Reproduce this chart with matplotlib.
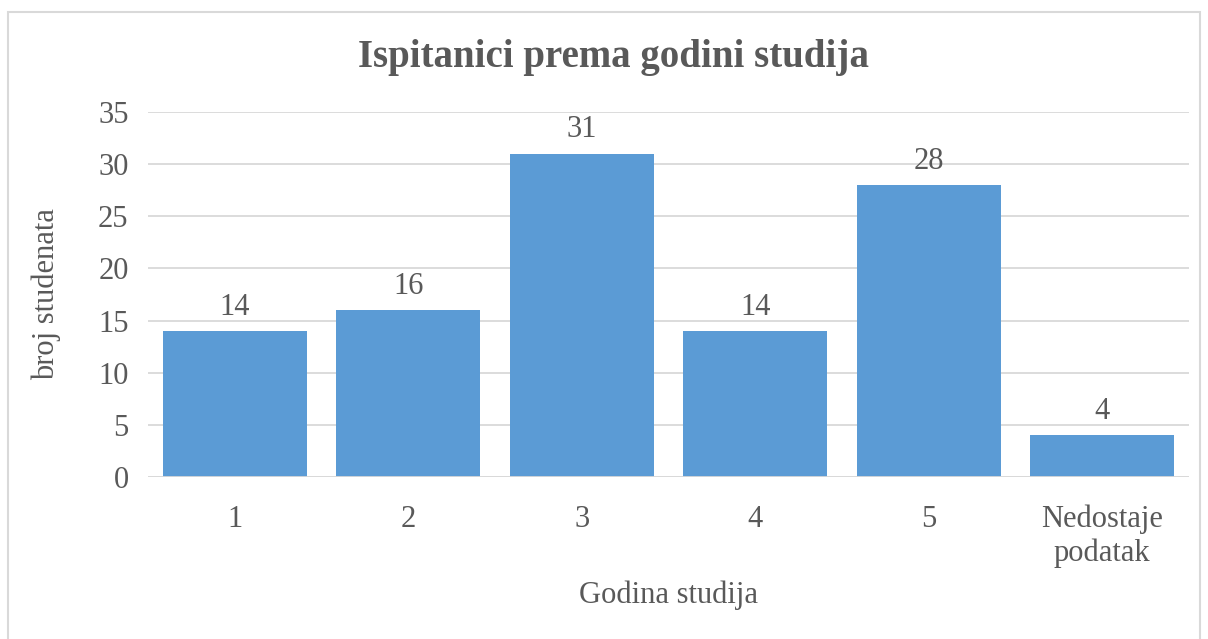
import matplotlib.pyplot as plt
from matplotlib.patches import Rectangle

# ── Data ─────────────────────────────────────────────────────────────────────
categories = ["1", "2", "3", "4", "5", "Nedostaje\npodatak"]
counts     = [14, 16, 31, 14, 28, 4]
y_ticks    = [0, 5, 10, 15, 20, 25, 30, 35]

TEXT  = "#595959"
BAR   = "#5b9bd5"
GRID  = "#d9d9d9"

plt.rcParams["font.family"] = ["Liberation Serif", "DejaVu Serif"]

fig = plt.figure(figsize=(12.08, 6.39), dpi=100, facecolor="white")
ax = fig.add_axes([148 / 1208, 1 - 477 / 639, (1189 - 148) / 1208, (477 - 112) / 639])

x = range(len(categories))
ax.bar(x, counts, width=0.83, color=BAR, zorder=3)
for xi, v in zip(x, counts):
    ax.text(xi, v + 0.9, str(v), ha="center", va="bottom", fontsize=22, color=TEXT)

ax.set_xlim(-0.5, len(categories) - 0.5)
ax.set_ylim(0, 35)
ax.set_yticks(y_ticks)
ax.set_xticks(list(x))
ax.set_xticklabels(categories, linespacing=1.2)
ax.tick_params(axis="both", length=0, labelsize=22, labelcolor=TEXT)
ax.tick_params(axis="x", pad=20)
ax.tick_params(axis="y", pad=14)
ax.yaxis.grid(True, color=GRID, linewidth=1.3, zorder=0)
for s in ax.spines.values():
    s.set_visible(False)
ax.axhline(0, color=GRID, linewidth=1.3, zorder=4)

ax.set_xlabel("Godina studija", fontsize=22, color=TEXT, labelpad=9)
ax.set_ylabel("broj studenata", fontsize=22, color=TEXT, labelpad=27)

fig.text(613 / 1208, 1 - 57 / 639, "Ispitanici prema godini studija",
         ha="center", va="center", fontsize=28, fontweight="bold", color=TEXT)

# chart border
fig.patches.append(Rectangle((8 / 1208, -0.05), (1200 - 8) / 1208, 1.05 - 12 / 639,
                             transform=fig.transFigure, fill=False,
                             edgecolor=GRID, linewidth=1.5))

fig.savefig("out.png", dpi=100, facecolor="white")
